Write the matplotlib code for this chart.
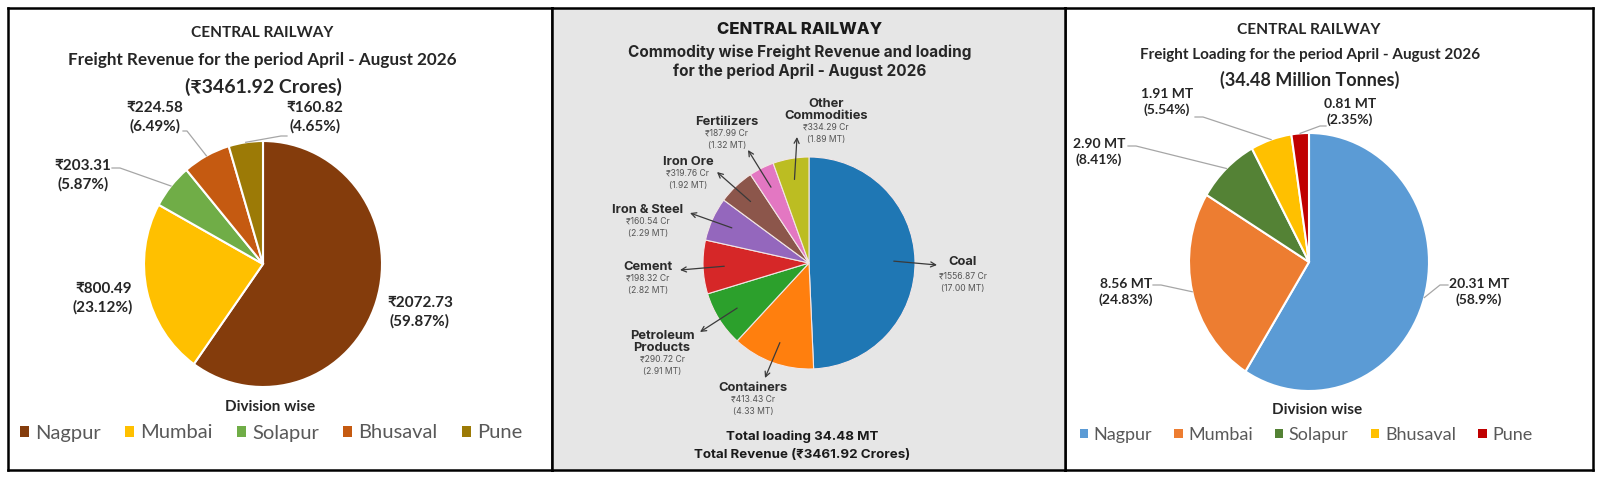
import matplotlib
matplotlib.use('Agg')
import matplotlib.pyplot as plt
from matplotlib.patches import Patch
import numpy as np

# division wise data
divisions = ['Nagpur', 'Mumbai', 'Solapur', 'Bhusaval', 'Pune']
revenue = [2072.73, 800.49, 203.31, 224.58, 160.82]      # Rs crore
revenue_pct = [59.87, 23.12, 5.87, 6.49, 4.65]
loading = [20.31, 8.56, 2.90, 1.91, 0.81]                # million tonnes
loading_pct = ['58.9', '24.83', '8.41', '5.54', '2.35']

# commodity wise data
commodities = ['Coal', 'Containers', 'Petroleum\nProducts', 'Cement', 'Iron & Steel',
               'Iron Ore', 'Fertilizers', 'Other\nCommodities']
comm_revenue = [1556.87, 413.43, 290.72, 198.32, 160.54, 319.76, 187.99, 334.29]
comm_loading = [17.00, 4.33, 2.91, 2.82, 2.29, 1.92, 1.32, 1.89]
total_revenue = 3461.92
total_loading = 34.48

rev_colors = ['#843C0C', '#FFC000', '#70AD47', '#C55A11', '#9C7A06']
load_colors = ['#5B9BD5', '#ED7D31', '#548235', '#FFC000', '#C00000']
comm_colors = ['#1f77b4', '#ff7f0e', '#2ca02c', '#d62728', '#9467bd',
               '#8c564b', '#e377c2', '#bcbd22']

SIDE = ['Lato', 'DejaVu Sans']
MID = ['Inter', 'DejaVu Sans']

W, H = 1600, 482
Y0, Y1 = 8, 470
fig = plt.figure(figsize=(16, 4.82), dpi=100)


def setup(x0, x1, cx, cy, rx, ry, bg):
    ax = fig.add_axes([x0 / W, 1 - Y1 / H, (x1 - x0) / W, (Y1 - Y0) / H])
    ax.set_facecolor(bg)

    def to_xy(x, y):
        return (x - cx) / rx, (cy - y) / ry

    def finish():
        ax.set_aspect('auto')
        ax.set_xlim((x0 - cx) / rx, (x1 - cx) / rx)
        ax.set_ylim((cy - Y1) / ry, (cy - Y0) / ry)
        ax.set_xticks([])
        ax.set_yticks([])
        ax.set_frame_on(True)
        for s in ax.spines.values():
            s.set_visible(True)
            s.set_linewidth(1.8)
            s.set_color('black')
    return ax, to_xy, finish


def mid_point(w, r):
    a = np.deg2rad((w.theta1 + w.theta2) / 2)
    return r * np.cos(a), r * np.sin(a)


def division_panel(x0, x1, cx, cy, rx, ry, values, labels, colors, titles, title_pos,
                   title_fs, label_pos, label_fs, leaders, div_pos, leg_pos, leg_fs, colsp):
    ax, to_xy, finish = setup(x0, x1, cx, cy, rx, ry, 'white')
    wedges, _ = ax.pie(values, colors=colors, startangle=90, counterclock=False,
                       wedgeprops=dict(edgecolor='white', linewidth=1.5), frame=True)
    for t, (x, y), fs in zip(titles, title_pos, title_fs):
        ax.text(*to_xy(x, y), t, ha='center', va='center', fontsize=fs,
                fontweight='bold', color='#262626', family=SIDE)
    for lab, (x, y) in zip(labels, label_pos):
        ax.text(*to_xy(x, y), lab, ha='center', va='center', fontsize=label_fs,
                fontweight='bold', color='#262626', family=SIDE, linespacing=1.35)
    for i, (x, y, dx) in leaders.items():
        ex, ey = mid_point(wedges[i], 1.0)
        sx, sy = to_xy(x, y)
        kx, ky = to_xy(x + dx, y)
        ax.plot([sx, kx, ex], [sy, ky, ey], color='#A6A6A6', lw=0.9, zorder=3)
    ax.text(*to_xy(*div_pos), 'Division wise', ha='center', va='center', fontsize=11,
            fontweight='bold', color='#262626', family=SIDE)
    handles = [Patch(facecolor=c, edgecolor='none') for c in colors]
    ax.legend(handles, divisions, loc='center', bbox_to_anchor=(leg_pos[0] / W, 1 - leg_pos[1] / H),
              bbox_transform=fig.transFigure, ncol=5, frameon=False,
              handlelength=0.45, handleheight=0.45, handletextpad=0.3, columnspacing=colsp,
              labelcolor='#595959', prop=dict(family=SIDE, size=leg_fs))
    finish()
    return ax


# left panel: freight revenue
rev_labels = ['₹%.2f\n(%.2f%%)' % (v, p) for v, p in zip(revenue, revenue_pct)]
division_panel(
    8, 552, 263, 264, 119, 123, revenue, rev_labels, rev_colors,
    ['CENTRAL RAILWAY', 'Freight Revenue for the period April - August 2026',
     '(₹%.2f Crores)' % total_revenue],
    [(262, 33), (262, 60), (263, 87)], [11.1, 12.3, 14],
    [(420, 312), (103, 298), (83, 175), (155, 117), (315, 117)], 11,
    {2: (112, 168, 8), 3: (183, 131, 4), 4: (287, 136, -6)},
    (270, 407), (271, 433), 14.5, 1.2)

# right panel: freight loading
load_labels = ['%.2f MT\n(%s%%)' % (v, p) for v, p in zip(loading, loading_pct)]
division_panel(
    1065, 1593, 1309, 262, 120, 129, loading, load_labels, load_colors,
    ['CENTRAL RAILWAY', 'Freight Loading for the period April - August 2026',
     '(%.2f Million Tonnes)' % total_loading],
    [(1309, 30), (1310, 55), (1310, 80)], [11.2, 11, 13],
    [(1479, 292), (1126, 292), (1099, 152), (1167, 102), (1350, 112)], 10,
    {0: (1448, 285, -8), 1: (1153, 285, 8), 2: (1128, 146, 8), 3: (1195, 117, 8), 4: (1326, 126, -6)},
    (1317, 410), (1306, 435), 13, 1.25)

# middle panel: commodity wise
ax, to_xy, finish = setup(552, 1065, 809, 263, 106, 106, '#E6E6E6')
wedges, _ = ax.pie(comm_loading, colors=comm_colors, startangle=90, counterclock=False,
                   wedgeprops=dict(edgecolor='#F2E6E6', linewidth=0.8), frame=True)
ax.text(*to_xy(800, 30), 'CENTRAL RAILWAY', ha='center', va='center', fontsize=12,
        fontweight='heavy', color='#1a1a1a', family=MID)
ax.text(*to_xy(800, 52), 'Commodity wise Freight Revenue and loading',
        ha='center', va='center', fontsize=11, fontweight='bold', color='#262626', family=MID)
ax.text(*to_xy(800, 71), 'for the period April - August 2026',
        ha='center', va='center', fontsize=11, fontweight='bold', color='#262626', family=MID)

name_pos = [(963, 262), (753, 388), (662, 336), (648, 267), (648, 210),
            (688, 162), (727, 122), (826, 104)]
arrow_head = [(937, 265), (765, 378), (700, 332), (680, 270), (690, 213),
              (717, 172), (748, 150), (797, 137)]
for i, name in enumerate(commodities):
    x, y = name_pos[i]
    parts = name.split('\n')
    for k, part in enumerate(parts):
        ax.text(*to_xy(x, y + 12 * k), part, ha='center', va='center', fontsize=9.3,
                fontweight='bold', color='#2b2b2b', family=MID)
    ry = y + 12 * (len(parts) - 1) + (14 if i == 0 else 11.5)
    ax.text(*to_xy(x, ry), '₹%.2f Cr' % comm_revenue[i], ha='center', va='center',
            fontsize=6.2, color='#555555', family=MID)
    ax.text(*to_xy(x, ry + 12), '(%.2f MT)' % comm_loading[i], ha='center', va='center',
            fontsize=6.2, color='#555555', family=MID)
    ax.annotate('', xy=to_xy(*arrow_head[i]), xytext=mid_point(wedges[i], 0.8),
                arrowprops=dict(arrowstyle='->', color='#3a3a3a', lw=0.9,
                                shrinkA=0, shrinkB=0, mutation_scale=9))

ax.text(*to_xy(802, 437), 'Total loading %.2f MT' % total_loading, ha='center', va='center',
        fontsize=9.6, fontweight='bold', color='#1a1a1a', family=MID)
ax.text(*to_xy(802, 455), 'Total Revenue (₹%.2f Crores)' % total_revenue, ha='center',
        va='center', fontsize=9.6, fontweight='bold', color='#1a1a1a', family=MID)
finish()

fig.savefig('out.png', dpi=100, facecolor='white')
